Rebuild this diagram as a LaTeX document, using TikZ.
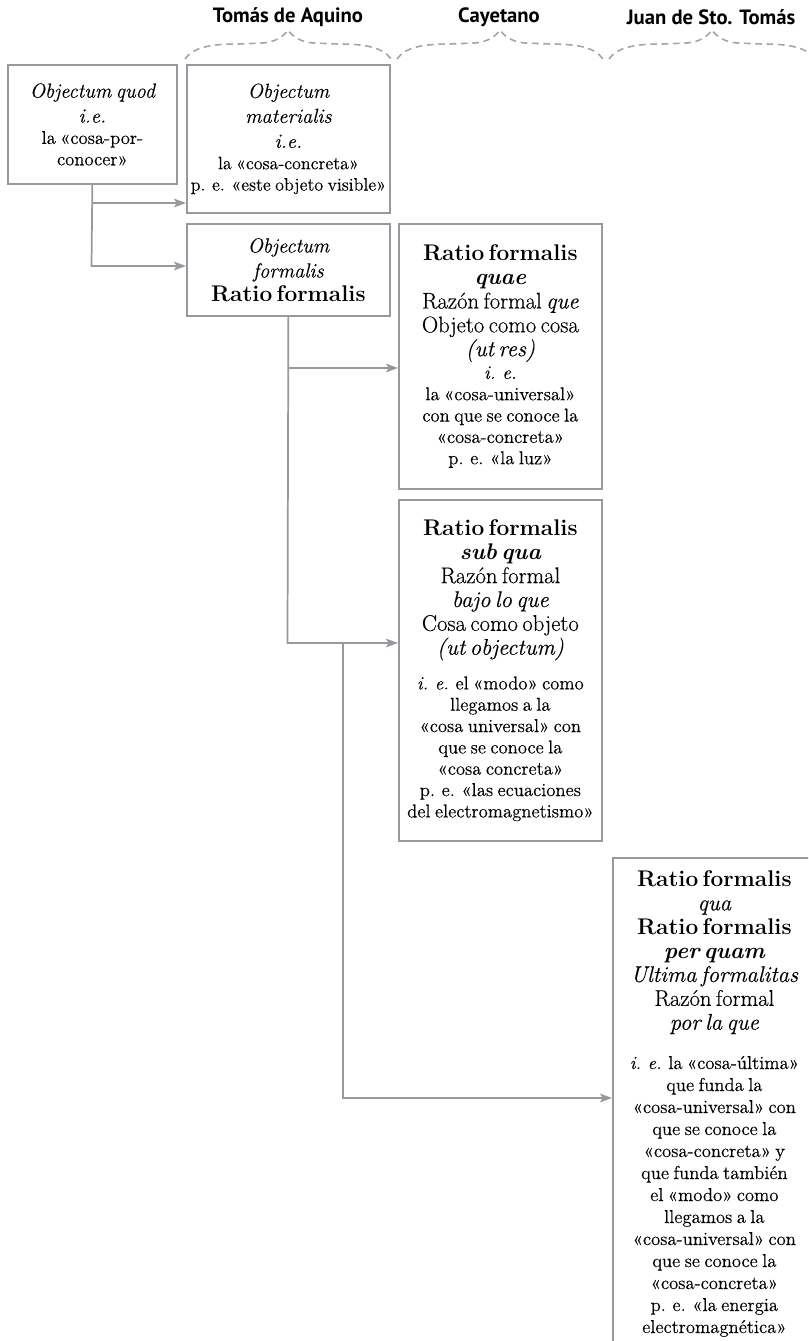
\documentclass[tikz,border=0pt]{standalone}
\usepackage{fontspec}
\setmainfont{Latin Modern Roman}[UprightFeatures={FakeBold=0.3},ItalicFeatures={FakeBold=0.3}]
\newfontfamily\hdrfont{PT Sans}
\usetikzlibrary{arrows.meta}
\definecolor{linegray}{RGB}{152,152,158}
\definecolor{dashgray}{RGB}{165,165,165}
\newcommand\mainf{\fontsize{17}{17.9}\selectfont}
\newcommand\smallf{\fontsize{14}{16}\selectfont}
\newcommand\objf{\fontsize{15.3}{18.75}\selectfont}
\newcommand\ief{\fontsize{14.5}{17}\selectfont}
\begin{document}
\begin{tikzpicture}[x=0.75pt,y=-0.75pt,
  box/.style={draw=linegray, line width=1.3pt, rectangle, anchor=north west, align=center, inner sep=2pt, text width=148pt},
  conn/.style={draw=linegray, line width=1.3pt, line join=miter},
  arr/.style={conn, -{Stealth[length=9pt,width=6.5pt,inset=2pt]}},
  hdr/.style={font={\hdrfont\bfseries\fontsize{15.5}{17}\selectfont}, anchor=center},
  bracepic/.pic={\draw[dashgray, line width=1.2pt, dash pattern=on 5pt off 3.5pt] (-103,29) .. controls (-95,18) and (-80,14) .. (-50,14) -- (-25,13) .. controls (-12,12) and (-4,6) .. (0,0) .. controls (4,6) and (12,12) .. (25,13) -- (50,14) .. controls (80,14) and (95,18) .. (103,29);}
]
\useasboundingbox (0,0) rectangle (808,1341);
\clip (0,0) rectangle (808,1341);

% headers and braces
\node[hdr] (h1) at (288,17) {Tomás de Aquino};
\node[hdr] (h2) at (499,17) {Cayetano};
\node[hdr] (h3) at (711,17) {Juan de Sto. Tomás};
\pic at (288,30) {bracepic};
\pic at (500,30) {bracepic};
\pic at (712,30) {bracepic};

% boxes
\node[box, minimum width=126.75pt, minimum height=89.25pt, text width=122pt] (quod) at (7,64) {%
{\objf\itshape Objectum quod\par i.e.\par}
{\smallf la «cosa-por-\par conocer»\par}};

\node[box, minimum width=152.25pt, minimum height=111pt] (mat) at (186,64) {%
{\objf\itshape Objectum\par materialis\par i.e.\par}
{\fontsize{13.5}{16}\selectfont la «cosa-concreta»\par p. e. «este objeto visible»\par}};

\node[box, minimum width=152.25pt, minimum height=69pt] (form) at (186,223) {%
{\objf\itshape Objectum\par formalis\par}
{\mainf\bfseries Ratio formalis\par}};

\node[box, minimum width=152.25pt, minimum height=198.75pt] (quae) at (398,223) {%
{\mainf\bfseries Ratio formalis\par \itshape quae\par}
{\mainf Razón formal \textit{que}\par Objeto como cosa\par \textit{(ut res)}\par}
{\ief\itshape i. e.\par}
{\smallf la «cosa-universal»\par con que se conoce la\par «cosa-concreta»\par p. e. «la luz»\par}};

\node[box, minimum width=152.25pt, minimum height=255.75pt] (sub) at (398,499) {%
{\mainf\bfseries Ratio formalis\par \itshape sub qua\par}
{\mainf Razón formal\par \textit{bajo lo que}\par Cosa como objeto\par \textit{(ut objectum)}\par}
\vspace{10pt}
{\smallf \textit{i. e.} el «modo» como\par llegamos a la\par «cosa universal» con\par que se conoce la\par «cosa concreta»\par p. e. «las ecuaciones\par del electromagnetismo»\par}};

\node[box, minimum width=152.25pt, minimum height=420pt] (qua) at (612,857) {};
\node[anchor=north, align=center, text width=148pt, inner sep=0pt] (quatext) at ([yshift=-10pt]qua.north) {%
{\mainf\bfseries Ratio formalis\par}
{\mainf\itshape qua\par}
{\mainf\bfseries Ratio formalis\par \itshape per quam\par}
{\mainf\itshape Ultima formalitas\par}
{\mainf Razón formal\par \textit{por la que}\par}
\vspace{13pt}
{\fontsize{14}{16.5}\selectfont \textit{i. e.} la «cosa-última»\par que funda la\par «cosa-universal» con\par que se conoce la\par «cosa-concreta» y\par que funda también\par el «modo» como\par llegamos a la\par «cosa-universal» con\par que se conoce la\par «cosa-concreta»\par p. e. «la energia\par electromagnética»\par}};

% connectors
\coordinate (a1) at (91.5,203);
\coordinate (a2) at (91.5,266);
\draw[arr] (quod.south) -- (a2) -- (a2 -| form.west);
\draw[arr] (a1) -- (a1 -| mat.west);

\coordinate (b1) at (287.5,368);
\coordinate (b2) at (287.5,643);
\draw[arr] (form.south) -- (b2) -- (b2 -| sub.west);
\draw[arr] (b1) -- (b1 -| quae.west);

\coordinate (c1) at (343,643);
\coordinate (c2) at (343,1098);
\draw[arr] (c1) -- (c2) -- (c2 -| qua.west);
\end{tikzpicture}
\end{document}
